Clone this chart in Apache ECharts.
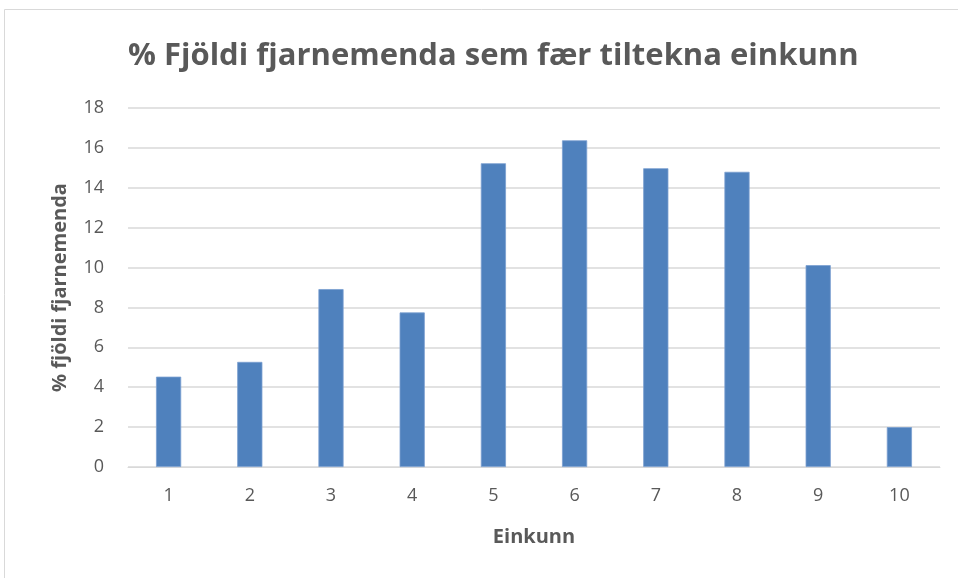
<!DOCTYPE html>
<html><head><meta charset="utf-8">
<script src="https://cdn.jsdelivr.net/npm/echarts@6/dist/echarts.min.js"></script>
<style>html,body{margin:0;padding:0;background:#fff}#c{width:958px;height:578px}</style>
</head><body><div id="c"></div>
<script>
const categories = ['1','2','3','4','5','6','7','8','9','10'];
const values = [4.53, 5.27, 8.92, 7.75, 15.23, 16.38, 14.98, 14.8, 10.12, 2.0];
const yTicks = [0, 2, 4, 6, 8, 10, 12, 14, 16, 18];
const titleText = '% Fjöldi fjarnemenda sem fær tiltekna einkunn';
const xName = 'Einkunn';
const yName = '% fjöldi fjarnemenda';

const chart = echarts.init(document.getElementById('c'), null, {renderer: 'canvas'});
const font = '"Open Sans", "Noto Sans", sans-serif';
chart.setOption({
  animation: false,
  graphic: [{type: 'rect', shape: {x: 4.5, y: 9.5, width: 1000, height: 1000}, style: {fill: 'none', stroke: '#d9d9d9', lineWidth: 1}, silent: true}],
  title: {text: titleText, left: 123, top: 36, textStyle: {fontFamily: font, fontWeight: 'bold', fontSize: 31, color: '#595959'}},
  grid: {left: 128, right: 18, top: 108, bottom: 111},
  xAxis: {
    type: 'category', data: categories,
    name: xName, nameLocation: 'middle', nameGap: 60,
    nameTextStyle: {fontFamily: font, fontWeight: 'bold', fontSize: 20, color: '#595959'},
    axisLine: {lineStyle: {color: '#d9d9d9', width: 1}},
    axisTick: {show: false},
    axisLabel: {fontFamily: font, fontSize: 18, color: '#595959', margin: 20}
  },
  yAxis: {
    type: 'value', min: yTicks[0], max: yTicks[yTicks.length - 1], interval: 2,
    name: yName, nameLocation: 'middle', nameGap: 58, nameRotate: 90,
    nameTextStyle: {fontFamily: font, fontWeight: 'bold', fontSize: 20, color: '#595959'},
    axisLine: {show: false}, axisTick: {show: false},
    axisLabel: {fontFamily: font, fontSize: 18, color: '#595959', margin: 24},
    splitLine: {lineStyle: {color: '#d9d9d9', width: 1.5}}
  },
  series: [{
    type: 'bar', data: values, barWidth: '31%',
    itemStyle: {color: '#4f81bd', borderColor: '#7ba0d0', borderWidth: 0.8}
  }]
});
</script></body></html>
